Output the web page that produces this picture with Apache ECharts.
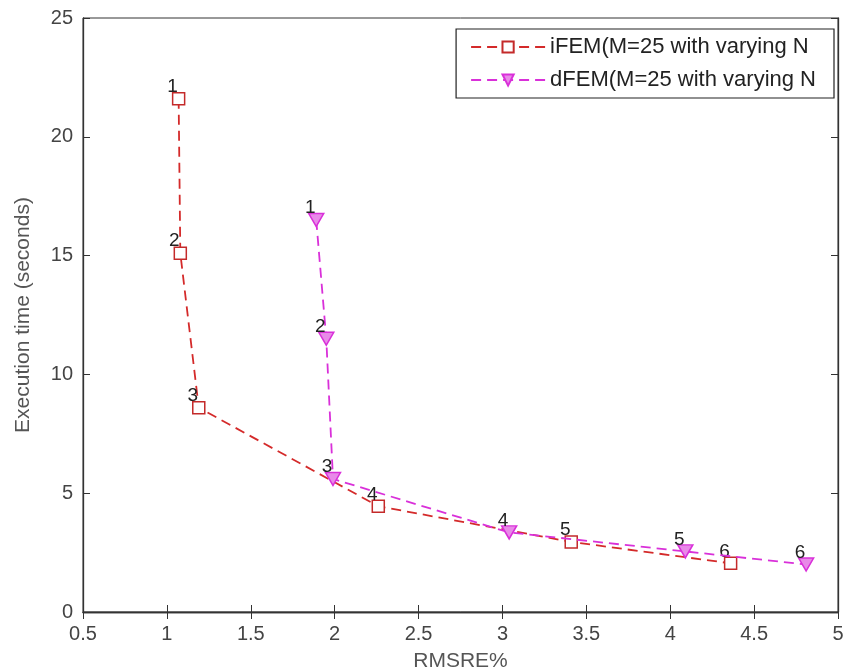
<!DOCTYPE html>
<html>
<head>
<meta charset="utf-8">
<script src="https://cdn.jsdelivr.net/npm/echarts@6/dist/echarts.min.js"></script>
<style>
  html, body { margin: 0; padding: 0; background: #fff; }
  #chart { width: 849px; height: 672px; }
</style>
</head>
<body>
<div id="chart"></div>
<script>
// iFEM (M=25, varying N)
const ifemX = [1.07, 1.08, 1.19, 2.26, 3.41, 4.36];
const ifemY = [21.6, 15.1, 8.6, 4.45, 2.95, 2.05];
// dFEM (M=25, varying N)
const dfemX = [1.89, 1.95, 1.99, 3.04, 4.09, 4.81];
const dfemY = [16.5, 11.5, 5.6, 3.35, 2.55, 2.0];
const pointLabels = ['1', '2', '3', '4', '5', '6'];

const font = 'Liberation Sans, Arial, sans-serif';

function toPoints(xs, ys) {
  return xs.map((x, i) => ({ value: [x, ys[i]], label: { formatter: pointLabels[i] } }));
}

const myEChart = echarts.init(document.getElementById('chart'));
const option = {
  animation: false,
  grid: {
    left: 83,
    right: 11,
    top: 18,
    bottom: 60,
    outerBoundsMode: 'none',
    show: true,
    borderColor: '#333',
    borderWidth: 1
  },
  legend: {
    right: 15,
    top: 29,
    orient: 'vertical',
    itemWidth: 74,
    itemHeight: 14,
    itemGap: 11,
    padding: [7, 18, 7, 14],
    borderColor: '#222',
    borderWidth: 1.2,
    backgroundColor: '#fff',
    textStyle: { fontFamily: font, fontSize: 22, color: '#222' }
  },
  xAxis: [
    {
      type: 'value',
      min: 0.5,
      max: 5,
      interval: 0.5,
      name: 'RMSRE%',
      nameLocation: 'middle',
      nameGap: 39,
      nameTextStyle: { fontFamily: font, fontSize: 21, color: '#555' },
      axisLine: { lineStyle: { color: '#333', width: 1.3 } },
      axisTick: { inside: true, length: 7, lineStyle: { color: '#333' } },
      axisLabel: { fontFamily: font, fontSize: 20, color: '#444', margin: 12 },
      splitLine: { show: false }
    },
    {
      type: 'value',
      position: 'top',
      min: 0.5,
      max: 5,
      interval: 0.5,
      axisLine: { lineStyle: { color: '#333', width: 1.3 } },
      axisTick: { inside: true, length: 7, lineStyle: { color: '#333' } },
      axisLabel: { show: false },
      splitLine: { show: false }
    }
  ],
  yAxis: [
    {
      type: 'value',
      min: 0,
      max: 25,
      interval: 5,
      name: 'Execution time (seconds)',
      nameLocation: 'middle',
      nameGap: 49,
      nameTextStyle: { fontFamily: font, fontSize: 21, color: '#555' },
      axisLine: { show: true, lineStyle: { color: '#333', width: 1.3 } },
      axisTick: { show: true, inside: true, length: 7, lineStyle: { color: '#333' } },
      axisLabel: { fontFamily: font, fontSize: 20, color: '#444', margin: 10 },
      splitLine: { show: false }
    },
    {
      type: 'value',
      position: 'right',
      min: 0,
      max: 25,
      interval: 5,
      axisLine: { show: true, lineStyle: { color: '#333', width: 1.3 } },
      axisTick: { show: true, inside: true, length: 7, lineStyle: { color: '#333' } },
      axisLabel: { show: false },
      splitLine: { show: false }
    }
  ],
  series: [
    {
      name: 'iFEM(M=25 with varying N',
      type: 'line',
      xAxisIndex: 0,
      yAxisIndex: 0,
      data: toPoints(ifemX, ifemY),
      symbol: 'rect',
      symbolSize: 12,
      color: '#d42a2a',
      lineStyle: { color: '#d42a2a', width: 1.8, type: [10, 6] },
      itemStyle: { color: '#fff', borderColor: '#c42a2a', borderWidth: 1.5 },
      label: {
        show: true,
        position: 'inside',
        offset: [-6, -12],
        fontFamily: font,
        fontSize: 19,
        color: '#222'
      },
      z: 3
    },
    {
      name: 'dFEM(M=25 with varying N',
      type: 'line',
      xAxisIndex: 0,
      yAxisIndex: 0,
      data: toPoints(dfemX, dfemY),
      symbol: 'triangle',
      symbolRotate: 180,
      symbolSize: [15, 13],
      color: '#d930d9',
      lineStyle: { color: '#d930d9', width: 1.8, type: [10, 6] },
      itemStyle: { color: '#e88ae8', borderColor: '#d930d9', borderWidth: 1.5 },
      label: {
        show: true,
        position: 'inside',
        offset: [-6, -12],
        fontFamily: font,
        fontSize: 19,
        color: '#222'
      },
      z: 4
    }
  ]
};
myEChart.setOption(option);
window.addEventListener('resize', function () {
  myEChart.resize();
});
</script>
</body>
</html>
